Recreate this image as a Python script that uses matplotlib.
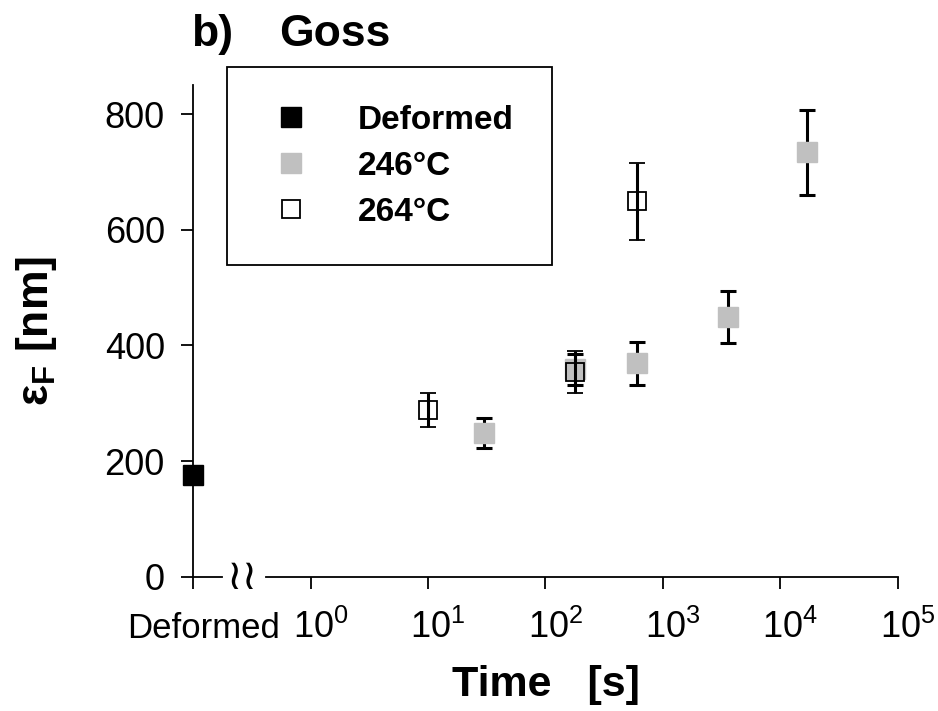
import matplotlib
matplotlib.use('agg')
import matplotlib.pyplot as plt
from matplotlib.lines import Line2D
from matplotlib.transforms import ScaledTranslation

plt.rcParams['font.family'] = 'Liberation Sans'
plt.rcParams['mathtext.fontset'] = 'custom'
plt.rcParams['mathtext.rm'] = 'Liberation Sans'
plt.rcParams['mathtext.bf'] = 'Liberation Sans:bold'

# data (time in s; "Deformed" is placed at the 0.1 s position)
t_def = [0.1]
eps_def = [175]

t_246 = [30, 180, 600, 3600, 17000]
eps_246 = [249, 359, 369, 449, 734]
err_246 = [26, 27, 37, 45, 74]

t_264 = [10, 180, 600]
eps_264 = [288, 354, 649]
err_264 = [30, 36, 66]

xticks = [0.1, 1, 10, 100, 1000, 10000, 100000]
xticklabels = ['Deformed', r'$10^{0}$', r'$10^{1}$', r'$10^{2}$',
               r'$10^{3}$', r'$10^{4}$', r'$10^{5}$']
yticks = [0, 200, 400, 600, 800]

gray = '#c0c0c0'
ms = 14

fig = plt.figure(figsize=(9.38, 7.11), dpi=100)
ax = fig.add_axes([0.206, 0.189, 0.751, 0.691])

ax.plot(t_def, eps_def, 's', color='black', ms=ms, clip_on=False, zorder=3)
ax.errorbar(t_246, eps_246, yerr=err_246, fmt='s', color=gray, ms=ms,
            ecolor='black', elinewidth=2.2, capsize=6, capthick=2.2,
            clip_on=False, zorder=3)
ax.errorbar(t_264, eps_264, yerr=err_264, fmt='s', mfc='none', mec='black',
            mew=1.3, ms=ms - 1, ecolor='black', elinewidth=2.2, capsize=6,
            capthick=2.2, clip_on=False, zorder=4)

ax.set_xscale('log')
ax.set_xlim(0.1, 1e5)
ax.set_ylim(0, 850)
ax.set_xticks(xticks)
ax.set_xticklabels(xticklabels)
ax.minorticks_off()
ax.set_yticks(yticks)

for s in ['top', 'right']:
    ax.spines[s].set_visible(False)
for s in ['left', 'bottom']:
    ax.spines[s].set_linewidth(1.3)
ax.spines['bottom'].set_bounds(0.42, 1e5)
ax.tick_params(axis='both', direction='out', length=8.5, width=1.3,
               labelsize=26)
ax.tick_params(axis='y', pad=12)
ax.tick_params(axis='x', pad=35.5)
shift = ScaledTranslation(0.1, 0, fig.dpi_scale_trans)
for i, lab in enumerate(ax.get_xticklabels()):
    lab.set_va('baseline')
    lab.set_transform(lab.get_transform() + shift)
    if i == 0:
        lab.set_fontsize(25)

# axis break
ax.plot([0.1, 0.175], [0, 0], color='black', lw=1.3, clip_on=False)
ax.text(0.263, 0, '\u2240\u2240', family=['DejaVu Sans'], fontsize=30,
        ha='center', va='center', clip_on=False)

ax.set_xlabel('Time   [s]', fontsize=31, fontweight='bold', labelpad=14)
ax.set_ylabel(r'ε$_\mathbf{F}$ [nm]', fontsize=32, fontweight='bold',
              labelpad=33)

fig.text(0.204, 0.935, 'b)', fontsize=32, fontweight='bold')
fig.text(0.298, 0.935, 'Goss', fontsize=32, fontweight='bold')

handles = [
    Line2D([], [], ls='none', marker='s', color='black', ms=ms),
    Line2D([], [], ls='none', marker='s', color=gray, ms=ms),
    Line2D([], [], ls='none', marker='s', mfc='none', mec='black', mew=1.3, ms=ms - 1),
]
leg = fig.legend(handles, ['Deformed', '246°C', '264°C'],
                 loc='upper left', bbox_to_anchor=(0.242, 0.906),
                 prop={'size': 24, 'weight': 'bold'}, frameon=True,
                 fancybox=False, edgecolor='black', framealpha=1,
                 borderpad=1.13, labelspacing=0.45, handlelength=1.6,
                 handletextpad=1.2, borderaxespad=0)
leg.get_frame().set_linewidth(1.3)

fig.savefig('out.png', dpi=100)
